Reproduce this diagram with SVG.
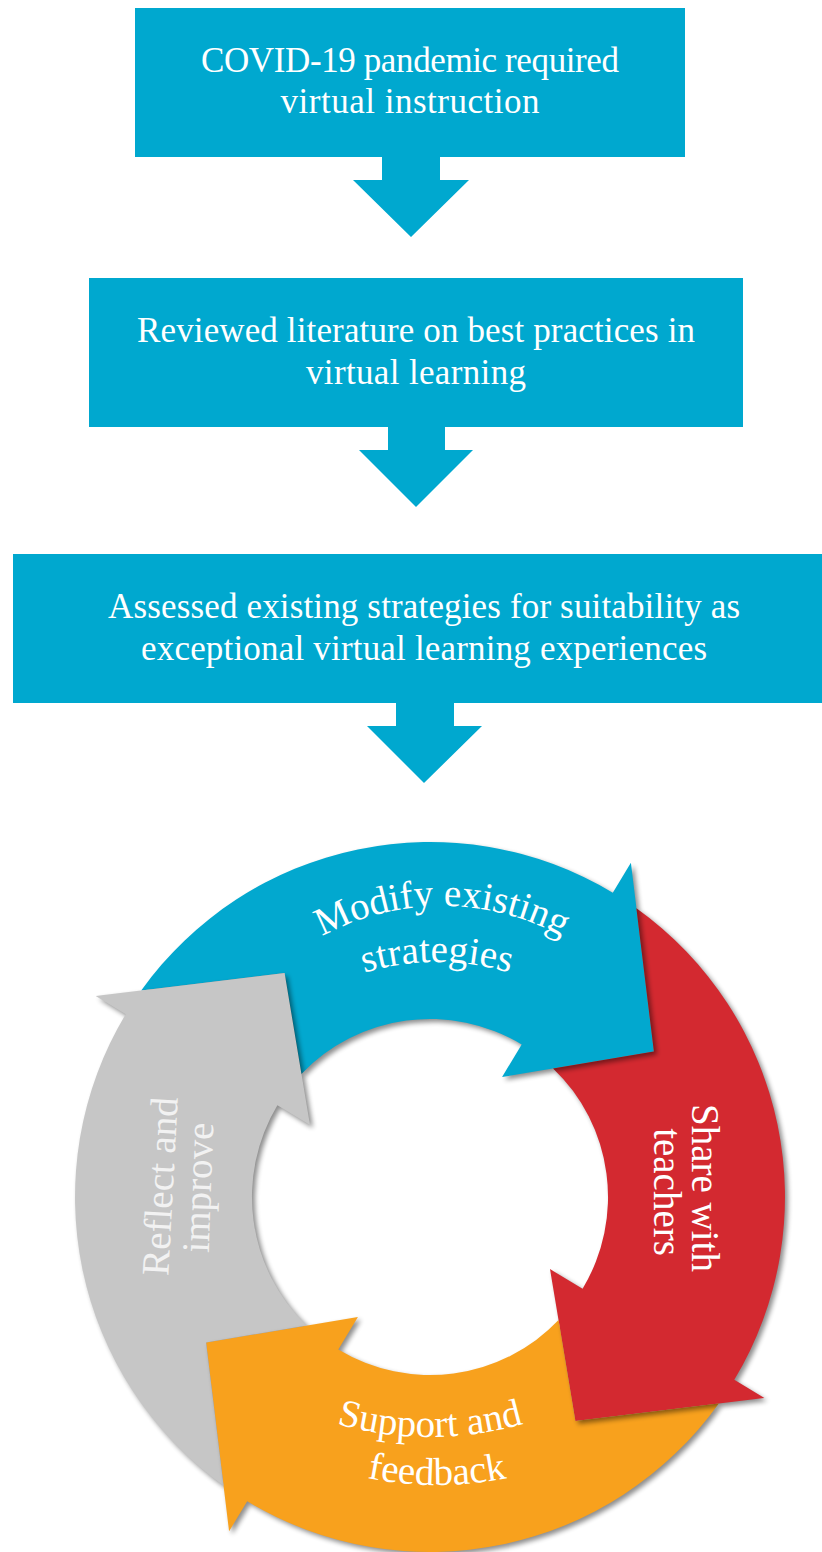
<svg xmlns="http://www.w3.org/2000/svg" width="822" height="1552" viewBox="0 0 822 1552">
<defs>
<style>
.box{fill:#00A8CF}
.flow{fill:#00A8CF}
.bt{font-family:"Liberation Serif","DejaVu Serif",serif;font-size:35px;fill:#ffffff;text-anchor:middle}
.ct{font-family:"Liberation Serif","DejaVu Serif",serif;font-size:39px;fill:#ffffff;text-anchor:middle}
.ctg{fill:#F2F2F2}
</style>
<filter id="sh" x="-20%" y="-20%" width="140%" height="140%">
<feGaussianBlur in="SourceAlpha" stdDeviation="2.5"/>
<feOffset dx="3" dy="3"/>
<feComponentTransfer><feFuncA type="linear" slope="0.45"/></feComponentTransfer>
</filter>
<path id="s-blue" d="M141.2,990.6 A355,355 0 0 1 612.8,892.7 L630.9,862.7 L653.9,1051.6 L502.1,1077 L521.7,1044.4 A178,178 0 0 0 301.4,1073.9 L284.6,973.1 Z"/>
<path id="s-red" d="M636.4,908.2 A355,355 0 0 1 734.3,1379.8 L764.3,1397.9 L575.4,1420.9 L550,1269.1 L582.6,1288.7 A178,178 0 0 0 553.1,1068.4 L653.9,1051.6 Z"/>
<path id="s-orange" d="M718.8,1403.4 A355,355 0 0 1 247.2,1501.3 L229.1,1531.3 L206.1,1342.4 L357.9,1317 L338.3,1349.6 A178,178 0 0 0 558.6,1320.1 L575.4,1420.9 Z"/>
<path id="s-gray" d="M223.6,1485.8 A355,355 0 0 1 125.7,1014.2 L95.7,996.1 L284.6,973.1 L310,1124.9 L277.4,1105.3 A178,178 0 0 0 306.9,1325.6 L206.1,1342.4 Z"/>
<clipPath id="c-blue"><use href="#s-blue"/></clipPath>
<clipPath id="c-red"><use href="#s-red"/></clipPath>
<clipPath id="c-orange"><use href="#s-orange"/></clipPath>
<clipPath id="c-gray"><use href="#s-gray"/></clipPath>
<path id="a-modify" d="M190,1158 A252,252 0 0 1 694,1158"/>
<path id="a-strat" d="M187,1212 A250,250 0 0 1 687,1212"/>
<path id="a-support" d="M90,1097 A340,340 0 0 0 770,1097"/>
<path id="a-feed" d="M84,1132 A353,353 0 0 0 790,1132"/>
</defs>
<rect x="0" y="0" width="822" height="1552" fill="#ffffff"/>

<g id="node-covid">
<rect class="box" x="135" y="8" width="550" height="149"/>
<text class="bt" x="410" y="72" textLength="418">COVID-19 pandemic required</text>
<text class="bt" x="410" y="113" textLength="259">virtual instruction</text>
</g>

<g id="node-review">
<rect class="box" x="89" y="278" width="654" height="149"/>
<text class="bt" x="416" y="342" textLength="558">Reviewed literature on best practices in</text>
<text class="bt" x="416" y="384" textLength="220">virtual learning</text>
</g>

<g id="node-assess">
<rect class="box" x="13" y="554" width="809" height="149"/>
<text class="bt" x="424" y="618" textLength="632">Assessed existing strategies for suitability as</text>
<text class="bt" x="424" y="660" textLength="566">exceptional virtual learning experiences</text>
</g>

<g id="connectors">
<polygon class="flow" points="382,157 440,157 440,180 469,180 411,237 353,180 382,180"/>
<polygon class="flow" points="388,427 445,427 445,450 473,450 416,507 359,450 388,450"/>
<polygon class="flow" points="396,703 454,703 454,726 482,726 424,783 367,726 396,726"/>
</g>

<g id="ring-shadow">
<use href="#s-blue" filter="url(#sh)"/>
<use href="#s-red" filter="url(#sh)"/>
<use href="#s-orange" filter="url(#sh)"/>
<use href="#s-gray" filter="url(#sh)"/>
</g>

<g id="node-modify">
<use href="#s-blue" fill="#02A8CF"/>
</g>
<g id="node-share">
<use href="#s-red" fill="#D32930"/>
</g>
<g id="node-support">
<use href="#s-orange" fill="#F8A11D"/>
</g>
<g id="node-reflect">
<use href="#s-gray" fill="#C6C6C6"/>
</g>

<g id="head-shadows">
<use href="#s-blue" filter="url(#sh)" clip-path="url(#c-red)"/>
<use href="#s-red" filter="url(#sh)" clip-path="url(#c-orange)"/>
<use href="#s-orange" filter="url(#sh)" clip-path="url(#c-gray)"/>
<use href="#s-gray" filter="url(#sh)" clip-path="url(#c-blue)"/>
</g>

<g id="labels">
<text class="ct"><textPath href="#a-modify" startOffset="50%">Modify existing</textPath></text>
<text class="ct"><textPath href="#a-strat" startOffset="50%">strategies</textPath></text>
<text class="ct" transform="translate(692,1188) rotate(90)">Share with</text>
<text class="ct" transform="translate(654,1192) rotate(90)">teachers</text>
<text class="ct"><textPath href="#a-support" startOffset="50%">Support and</textPath></text>
<text class="ct"><textPath href="#a-feed" startOffset="50%">feedback</textPath></text>
<text class="ct ctg" transform="translate(173,1187) rotate(-87)">Reflect and</text>
<text class="ct ctg" transform="translate(211,1188) rotate(-88)">improve</text>
</g>
</svg>
